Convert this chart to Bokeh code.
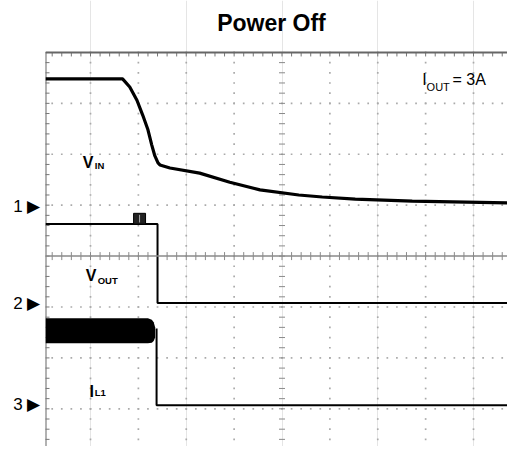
import numpy as np
from bokeh.plotting import figure
from bokeh.models import Range1d, Span, Label, FixedTicker
from bokeh.embed import file_html
from bokeh.resources import INLINE

# ---- data (scope divisions: x = time div, y = vertical div, screen centre = 0) ----
vin_t = [-4.94, -3.33, -3.18, -3.03, -2.91, -2.80, -2.72, -2.66, -2.59, -2.55, -2.34,
         -1.72, -1.09, -0.46, 0.35, 0.84, 1.53, 2.72, 4.87]
vin_v = [3.48, 3.48, 3.32, 3.06, 2.77, 2.48, 2.18, 1.98, 1.83, 1.79, 1.73,
         1.63, 1.45, 1.30, 1.20, 1.16, 1.12, 1.08, 1.04]

vout_t = [-4.94, -2.60, -2.60, 4.87]
vout_v = [0.63, 0.63, -0.92, -0.92]

il_band_t = [-4.94, -2.80, -2.72, -2.68, -2.65]
il_band_top = [-1.22, -1.22, -1.25, -1.30, -1.40]
il_band_bot = [-1.71, -1.71, -1.70, -1.67, -1.60]
il_t = [-2.62, -2.62, 4.87]
il_v = [-1.42, -2.93, -2.93]

trig_left, trig_right, trig_bottom, trig_top = -3.10, -2.85, 0.63, 0.84

channel_pos = [0.98, -0.94, -2.91]
channel_labels = ["1 \u25B6", "2 \u25B6", "3 \u25B6"]

title_text = "Power Off"

x_lo, x_hi = -4.94, 4.71
y_lo, y_top = -3.74, 4.0      # graticule extent
y_hi = 5.02                   # room above graticule for the title

FONT = "Liberation Sans"

p = figure(width=507, height=446, x_range=Range1d(x_lo, x_hi), y_range=Range1d(y_lo, y_hi),
           output_backend="svg", toolbar_location=None, x_axis_location=None,
           min_border_left=45, min_border_right=0, min_border_top=0, min_border_bottom=0)
p.outline_line_color = None
p.background_fill_color = "white"
p.border_fill_color = "white"
p.ygrid.visible = False

# channel markers as y-axis labels
ax = p.yaxis[0]
ax.ticker = FixedTicker(ticks=channel_pos)
ax.major_label_overrides = {v: t for v, t in zip(channel_pos, channel_labels)}
ax.axis_line_color = None
ax.major_tick_line_color = None
ax.minor_tick_line_color = None
ax.major_label_text_font = FONT
ax.major_label_text_font_size = "17px"
ax.major_label_text_color = "black"
ax.major_label_standoff = -1

# dotted graticule
gx = np.arange(-4, 5)
gy = np.arange(-4, 5)
minor_x = np.round(np.arange(-5, 5.01, 0.2), 3)
minor_y = np.round(np.arange(-4, 4.01, 0.2), 3)
dx, dy = [], []
for g in gx:
    if g == 0:
        continue
    dx += [g] * len(minor_y)
    dy += list(minor_y)
for g in gy:
    if g == 0 or g == 4:
        continue
    dx += list(minor_x)
    dy += [g] * len(minor_x)
p.scatter(dx, dy, marker="square", size=1.7, color="#aaaaaa", line_color=None)

# borders and centre lines
p.segment(x0=[x_lo], x1=[x_lo], y0=[y_lo], y1=[y_top], line_color="#666666", line_width=2)
p.add_layout(Span(location=y_top, dimension="width", line_color="#666666", line_width=2))
p.add_layout(Span(location=0, dimension="width", line_color="#8a8a8a", line_width=1.5))

# ticks on centre lines and borders
p.scatter(minor_x, np.zeros_like(minor_x), marker="dash", angle=np.pi / 2, size=8,
          line_color="#8a8a8a", line_width=1)
p.scatter(np.zeros_like(minor_y), minor_y, marker="dash", size=6,
          line_color="#8a8a8a", line_width=1)
p.scatter(minor_x, np.full_like(minor_x, y_top) - 0.04, marker="dash", angle=np.pi / 2, size=4,
          line_color="#777777", line_width=1)
p.scatter(np.full_like(minor_y, x_lo), minor_y, marker="dash", size=8,
          line_color="#777777", line_width=1)

# traces
p.line(vin_t, vin_v, line_color="black", line_width=3.2)
p.line(vout_t, vout_v, line_color="black", line_width=2)
p.varea(x=il_band_t, y1=il_band_bot, y2=il_band_top, fill_color="black")
p.line(il_t, il_v, line_color="black", line_width=2)
p.quad(left=[trig_left], right=[trig_right], bottom=[trig_bottom], top=[trig_top],
       fill_color="#222222", line_color="black", line_width=1)
p.segment(x0=[(trig_left + trig_right) / 2], x1=[(trig_left + trig_right) / 2],
          y0=[trig_bottom + 0.03], y1=[trig_top - 0.03], line_color="#aaaaaa", line_width=1)

# text labels
def lab(x, y, t, size, style="bold", align="left"):
    p.add_layout(Label(x=x, y=y, text=t, text_font=FONT, text_font_size=size,
                       text_font_style=style, text_color="black",
                       text_baseline="alphabetic", text_align=align))

# title (above the graticule)
lab(-0.22, 4.58, title_text, "23px", "bold", "center")

lab(-4.16, 1.84, "V", "16px")
lab(-3.91, 1.78, "IN", "9.5px")
lab(-4.10, -0.38, "V", "16px")
lab(-3.85, -0.48, "OUT", "9.5px")
lab(-4.02, -2.66, "I", "16px")
lab(-3.91, -2.68, "L1", "9.5px")
lab(2.93, 3.47, "I", "16px", "normal")
lab(3.02, 3.33, "OUT", "11px", "normal")
lab(3.56, 3.47, "= 3A", "16px", "normal")

open("out.html", "w").write(file_html(p, INLINE))
